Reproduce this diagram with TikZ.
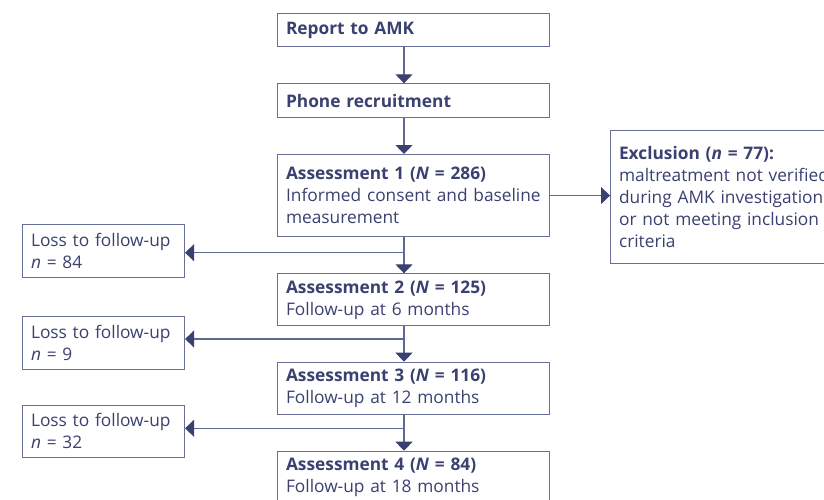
\documentclass[tikz,border=0pt]{standalone}
\usepackage{fontspec}
\setmainfont{Open Sans}
\usetikzlibrary{arrows.meta,calc}
\definecolor{ink}{RGB}{58,65,112}
\definecolor{frame}{RGB}{104,111,152}
\definecolor{wire}{RGB}{96,103,146}
\tikzset{
  box/.style={draw=frame, line width=1.1pt, anchor=north west, inner xsep=8.5pt,
    inner ysep=0pt, align=left, text=ink, font=\fontsize{17.3}{22}\selectfont},
  mainbox/.style={box, minimum width=272pt, text width=255pt},
  lossbox/.style={box, minimum width=162pt, text width=145pt},
  arr/.style={draw=wire, line width=1.3pt,
    -{Triangle[length=9pt,width=17pt,color=ink]}},
}
\newcommand{\hd}[1]{\textbf{#1}}
\begin{document}
\begin{tikzpicture}[x=1pt,y=-1pt]
  \useasboundingbox (0,0) rectangle (824,499);
  \clip (0,0) rectangle (824,499);
  \fill[white] (0,0) rectangle (824,499);

  % main column
  \node[mainbox, minimum height=33.5pt] (rep) at (277,12.7) {\hd{Report to AMK}};
  \node[mainbox, minimum height=34pt] (phone) at (277,83.3) {\hd{Phone recruitment}};
  \node[mainbox, minimum height=82pt] (a1) at (277,154)
    {\hd{Assessment 1 (\textit{N} = 286)}\\Informed consent and baseline\\measurement};
  \node[mainbox, minimum height=52pt] (a2) at (277,273.3)
    {\hd{Assessment 2 (\textit{N} = 125)}\\Follow-up at 6 months};
  \node[mainbox, minimum height=52.3pt] (a3) at (277,361.7)
    {\hd{Assessment 3 (\textit{N} = 116)}\\Follow-up at 12 months};
  \node[mainbox, minimum height=52.3pt] (a4) at (277,450.7)
    {\hd{Assessment 4 (\textit{N} = 84)}\\Follow-up at 18 months};

  % side boxes
  \node[box, minimum width=280pt, text width=263pt, minimum height=133pt] (excl) at (610,130)
    {\hd{Exclusion (\textit{n} = 77):}\\maltreatment not verified\\during AMK investigation\\or not meeting inclusion\\criteria};
  \node[lossbox, minimum height=52.4pt] (l1) at (22,224.3) {Loss to follow-up\\\textit{n} = 84};
  \node[lossbox, minimum height=52.7pt] (l2) at (22,316) {Loss to follow-up\\\textit{n} = 9};
  \node[lossbox, minimum height=51.7pt] (l3) at (22,405) {Loss to follow-up\\\textit{n} = 32};

  % spine of the flow and its branch points
  \coordinate (spine) at (404,0);
  \coordinate (j1) at (404,252.7);
  \coordinate (j2) at (404,339);
  \coordinate (j3) at (404,428.3);

  \draw[arr] (rep.south -| spine) -- (phone.north -| spine);
  \draw[arr] (phone.south -| spine) -- (a1.north -| spine);
  \draw[arr] (a1.south -| spine) -- (a2.north -| spine);
  \draw[arr] (a2.south -| spine) -- (a3.north -| spine);
  \draw[arr] (a3.south -| spine) -- (a4.north -| spine);

  \draw[arr] (j1) -- (l1.east |- j1);
  \draw[arr] (j2) -- (l2.east |- j2);
  \draw[arr] (j3) -- (l3.east |- j3);

  \draw[arr] (a1.east) -- (excl.west |- a1.east);
\end{tikzpicture}
\end{document}
